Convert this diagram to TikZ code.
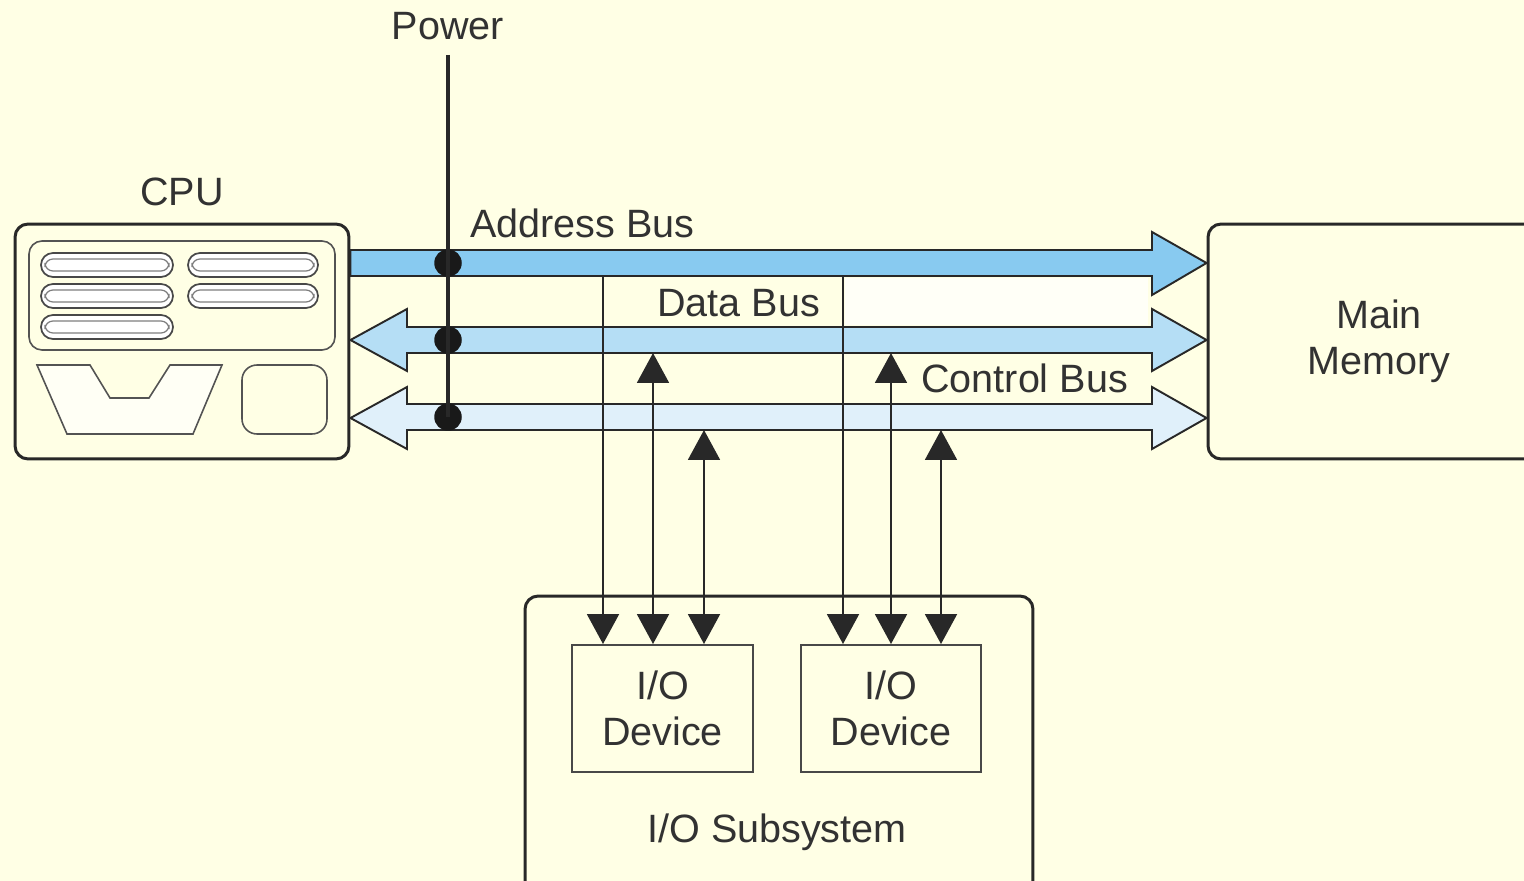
\documentclass[tikz,border=0pt]{standalone}
\usepackage{fontspec}
\setmainfont{Liberation Sans}
\usepackage{tikz}
\usetikzlibrary{arrows.meta}
\definecolor{bg}{RGB}{255,255,229}
\definecolor{ink}{RGB}{40,40,40}
\definecolor{txt}{RGB}{50,50,50}
\definecolor{addrblue}{RGB}{136,202,240}
\definecolor{datablue}{RGB}{181,222,245}
\definecolor{ctrlblue}{RGB}{224,240,250}
\newcommand{\lblfont}{\fontsize{22.5}{26}\selectfont}
\tikzset{box/.style={draw=ink, line width=1.7pt, rounded corners=0.26cm, fill=bg, text=txt, font=\lblfont}}
\tikzset{devbox/.style={draw=ink!85, line width=1.1pt, text=txt, font=\lblfont, align=center}}
\tikzset{lbl/.style={text=txt, font=\lblfont}}
\tikzset{bus/.style={draw=ink, line width=1.1pt, line join=miter}}
\tikzset{wire/.style={draw=ink, line width=1.6pt, >={Triangle[length=17pt, width=18pt]}}}
\tikzset{junction/.style={circle, fill=black!90, minimum size=0.55cm, inner sep=0pt}}
\tikzset{pill/.style={draw=ink!85, line width=1pt, rounded corners=0.24cm, fill=white}}

\begin{document}
\begin{tikzpicture}[x=0.02cm, y=-0.02cm]
\fill[bg] (0,0) rectangle (1524,881);
\useasboundingbox (0,0) rectangle (1524,881);
\clip (0,0) rectangle (1524,881);

% boxes
\node[box, minimum width=6.68cm, minimum height=4.7cm] (cpu) at (182,341.5) {};
\node[box, minimum width=6.84cm, minimum height=4.7cm, align=center] (mem) at (1379,341.5) {\raisebox{-4pt}{}Main\\Memory};
\node[box, minimum width=10.16cm, minimum height=6.6cm] (iosub) at (779,761) {};
\node[devbox, minimum width=3.62cm, minimum height=2.54cm] (dev1) at (662.5,708.5) {I/O\\Device};
\node[devbox, minimum width=3.6cm, minimum height=2.54cm] (dev2) at (891,708.5) {I/O\\Device};

% cpu inside
\draw[draw=ink!80, line width=0.9pt, rounded corners=0.26cm] (29,241) rectangle (335,350);
\foreach \y in {265,296,327} {
  \draw[pill] (41,\y-12) rectangle (173,\y+12);
  \draw[draw=ink!60, line width=0.7pt, rounded corners=0.16cm] (45,\y-6) rectangle (169,\y+6);
}
\foreach \y in {265,296} {
  \draw[pill] (188,\y-12) rectangle (318,\y+12);
  \draw[draw=ink!60, line width=0.7pt, rounded corners=0.16cm] (192,\y-6) rectangle (314,\y+6);
}
\draw[draw=ink!80, line width=0.9pt, fill=white!60!bg] (37,365) -- (90,365) -- (110,398) -- (149,398) -- (170,365) -- (222,365) -- (193,434) -- (67,434) -- cycle;
\draw[draw=ink!80, line width=0.9pt, rounded corners=0.3cm] (242,365) rectangle (327,434);

% labels
\node[lbl, anchor=base] (cpulbl) at (182,206) {CPU};
\node[lbl, anchor=base] (powlbl) at (448,40) {Power};
\node[lbl, anchor=base west, inner sep=0pt] (ablbl) at (470,238) {Address Bus};
\node[lbl, anchor=base west, inner sep=0pt] (dblbl) at (657,317) {Data Bus};
\node[lbl, anchor=base west, inner sep=0pt] (cblbl) at (921,393) {Control Bus};
\node[lbl, anchor=base] (iolbl) at (777,842) {I/O Subsystem};

% buses
\fill[white!70!bg] (845,278) rectangle (1148,325);
\draw[bus, fill=addrblue] (cpu.east |- 0,250) -- (1152,250) -- (1152,232) -- (mem.west |- 0,263)
  -- (1152,295) -- (1152,276) -- (cpu.east |- 0,276) -- cycle;
\draw[bus, fill=datablue] (cpu.east |- 0,340) -- (407,309) -- (407,327) -- (1152,327) -- (1152,309)
  -- (mem.west |- 0,340) -- (1152,371) -- (1152,353) -- (407,353) -- (407,371) -- cycle;
\draw[bus, fill=ctrlblue] (cpu.east |- 0,418) -- (407,387) -- (407,404) -- (1152,404) -- (1152,387)
  -- (mem.west |- 0,418) -- (1152,449) -- (1152,430) -- (407,430) -- (407,449) -- cycle;

% wires to devices
\coordinate (a1) at (603,276);
\coordinate (d1) at (653,353);
\coordinate (c1) at (704,430);
\coordinate (a2) at (843,276);
\coordinate (d2) at (891,353);
\coordinate (c2) at (941,430);
\draw[wire, ->] (a1) -- (a1 |- dev1.north);
\draw[wire, <->] (d1) -- (d1 |- dev1.north);
\draw[wire, <->] (c1) -- (c1 |- dev1.north);
\draw[wire, ->] (a2) -- (a2 |- dev2.north);
\draw[wire, <->] (d2) -- (d2 |- dev2.north);
\draw[wire, <->] (c2) -- (c2 |- dev2.north);

% power
\node[junction] (j1) at (448,263) {};
\node[junction] (j2) at (448,340) {};
\node[junction] (j3) at (448,417) {};
\coordinate (ptop) at (448,55);
\draw[draw=ink, line width=1.8pt] (ptop) -- (j3.center);
\end{tikzpicture}
\end{document}
